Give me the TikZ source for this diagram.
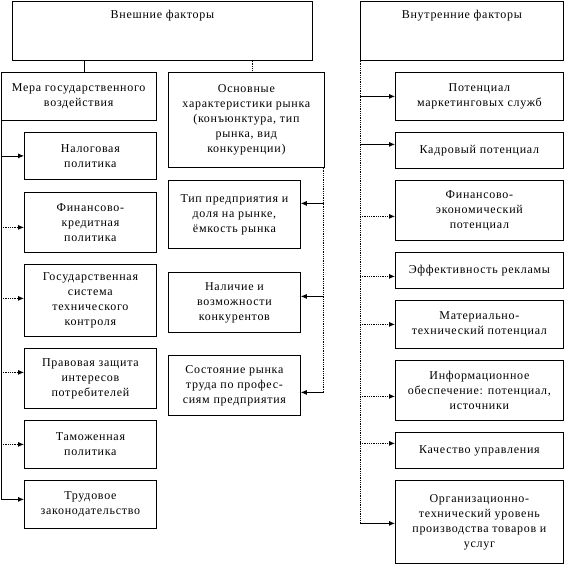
\documentclass[tikz,border=0pt]{standalone}
\usepackage{fontspec}
\setmainfont{Liberation Serif}[LetterSpace=6]
\usetikzlibrary{arrows.meta}
\begin{document}
\begin{tikzpicture}[x=1pt,y=-1pt,
  box/.style={draw, line width=0.8pt, align=center, inner sep=1pt, anchor=north west, font=\fontsize{12}{15}\selectfont},
  topbox/.style={box, inner ysep=6pt, text height=12pt, text depth=35.5pt},
  arr/.style={-{Latex[length=6pt,width=5pt]}, line width=0.8pt},
  darr/.style={arr, densely dotted},
  vline/.style={line width=0.8pt},
]
\useasboundingbox (0,0) rectangle (565,565);
% top boxes
\node[topbox, minimum width=300] (ext) at (12,0.5) {Внешние факторы};
\node[topbox, minimum width=203] (int) at (360,0.5) {Внутренние факторы};
% second level
\node[box, minimum width=155.5, minimum height=48] (mera) at (0.5,72) {Мера государственного\\воздействия};
\node[box, minimum width=156, minimum height=95] (osn) at (168,72) {Основные\\характеристики рынка\\(конъюнктура, тип\\рынка, вид\\конкуренции)};
% left column
\node[box, minimum width=132, minimum height=47] (nal) at (24,132) {Налоговая\\политика};
\node[box, minimum width=132, minimum height=60] (fin) at (24,192) {Финансово-\\кредитная\\политика};
\node[box, minimum width=132, minimum height=72] (gos) at (24,264) {Государственная\\система\\технического\\контроля};
\node[box, minimum width=132, minimum height=60] (prav) at (24,348) {Правовая защита\\интересов\\потребителей};
\node[box, minimum width=132, minimum height=48] (tam) at (24,420) {Таможенная\\политика};
\node[box, minimum width=132, minimum height=48] (trud) at (24,480) {Трудовое\\законодательство};
% middle column
\node[box, minimum width=132, minimum height=68] (tip) at (168,180) {Тип предприятия и\\доля на рынке,\\ёмкость рынка};
\node[box, minimum width=132, minimum height=60] (konk) at (168,272) {Наличие и\\возможности\\конкурентов};
\node[box, minimum width=132, minimum height=60] (sost) at (168,355) {Состояние рынка\\труда по профес-\\сиям предприятия};
% right column
\node[box, minimum width=168, minimum height=48] (pot) at (395,72) {Потенциал\\маркетинговых служб};
\node[box, minimum width=168, minimum height=36] (kadr) at (395,132) {Кадровый потенциал};
\node[box, minimum width=168, minimum height=60] (fe) at (395,180) {Финансово-\\экономический\\потенциал};
\node[box, minimum width=168, minimum height=36] (eff) at (395,252) {Эффективность рекламы};
\node[box, minimum width=168, minimum height=48] (mat) at (395,300) {Материально-\\технический потенциал};
\node[box, minimum width=168, minimum height=60] (inf) at (395,360) {Информационное\\обеспечение: потенциал,\\источники};
\node[box, minimum width=168, minimum height=36] (kach) at (395,432) {Качество управления};
\node[box, minimum width=168, minimum height=83] (org) at (395,480) {Организационно-\\технический уровень\\производства товаров и\\услуг};
% connectors from top box
\draw[vline] ([xshift=72pt]ext.south west) -- ([xshift=83.5pt]mera.north west);
\draw[vline, densely dotted] ([xshift=240pt]ext.south west) -- ([xshift=84pt]osn.north west);
% left bus
\coordinate (lv) at ([xshift=0.5pt]mera.south west);
\coordinate (a1) at (nal.west);
\coordinate (a2) at ([yshift=-5pt]fin.west);
\coordinate (a3) at ([yshift=2pt]gos.west);
\coordinate (a4) at ([yshift=6pt]prav.west);
\coordinate (a5) at (tam.west);
\coordinate (a6) at ([yshift=5pt]trud.west);
\draw[vline] (lv) -- (lv |- a6);
\draw[arr] (lv |- a1) -- (a1);
\draw[darr] (lv |- a2) -- (a2);
\draw[darr] (lv |- a3) -- (a3);
\draw[darr] (lv |- a4) -- (a4);
\draw[darr] (lv |- a5) -- (a5);
\draw[arr] (lv |- a6) -- (a6);
% middle bus
\coordinate (mv) at ([xshift=-1pt]osn.south east);
\coordinate (b1) at ([yshift=11pt]tip.east);
\coordinate (b2) at ([yshift=6pt]konk.east);
\coordinate (b3) at ([yshift=-7pt]sost.east);
\draw[vline, densely dotted] (mv) -- (mv |- b3);
\draw[arr] (mv |- b1) -- (b1);
\draw[arr] (mv |- b2) -- (b2);
\draw[arr] (mv |- b3) -- (b3);
% right bus
\coordinate (rv) at (int.south west);
\coordinate (c1) at (pot.west);
\coordinate (c2) at ([yshift=6pt]kadr.west);
\coordinate (c3) at ([yshift=-6pt]fe.west);
\coordinate (c4) at ([yshift=-6pt]eff.west);
\coordinate (c5) at (mat.west);
\coordinate (c6) at ([yshift=-6pt]inf.west);
\coordinate (c7) at ([yshift=7pt]kach.west);
\coordinate (c8) at ([yshift=-1.5pt]org.west);
\draw[vline, densely dotted] (rv) -- (rv |- c8);
\draw[arr] (rv |- c1) -- (c1);
\draw[arr] (rv |- c2) -- (c2);
\draw[darr] (rv |- c3) -- (c3);
\draw[darr] (rv |- c4) -- (c4);
\draw[darr] (rv |- c5) -- (c5);
\draw[darr] (rv |- c6) -- (c6);
\draw[darr] (rv |- c7) -- (c7);
\draw[arr] (rv |- c8) -- (c8);
\end{tikzpicture}
\end{document}
